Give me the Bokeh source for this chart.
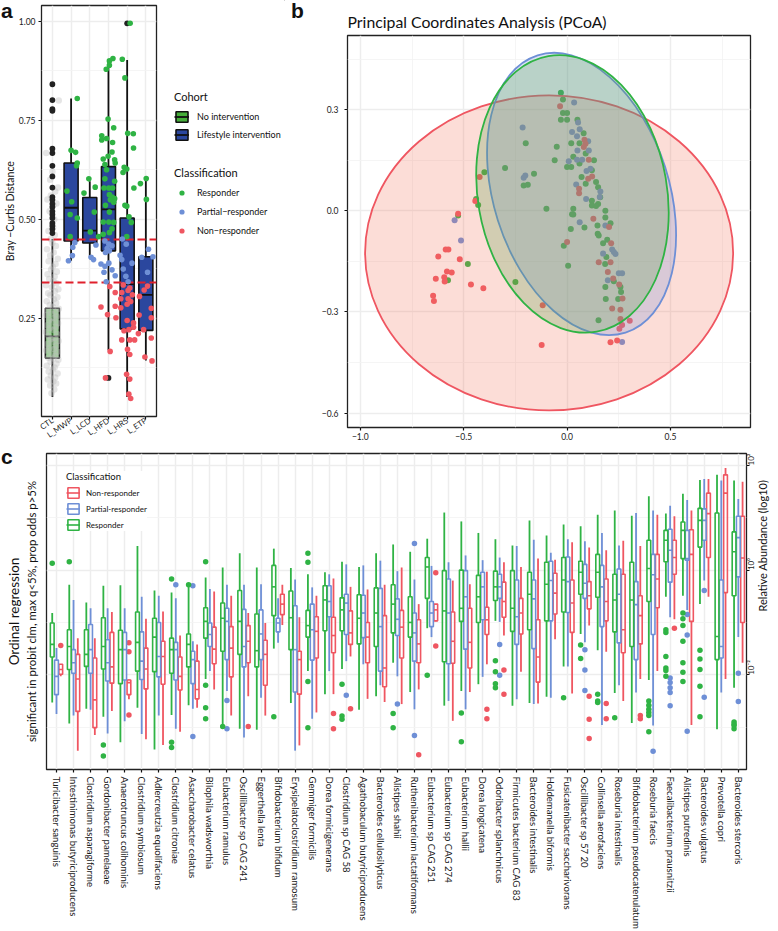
from bokeh.plotting import figure
from bokeh.layouts import column, row
from bokeh.models import (ColumnDataSource, FixedTicker, Legend, LegendItem, Range1d, LinearAxis, Div)
from bokeh.embed import file_html
from bokeh.resources import INLINE

FONT = "Lato"
GREEN = "#2FB344"
BLUE = "#6E8FD6"
RED = "#EF5661"
GRID = "#EDEDED"
GRID2 = "#F2F2F2"

# ---------- panel a ----------
cohorts = ["CTL", "L_MWP", "L_LCD", "L_HFD", "L_HRS", "L_ETP"]
coh_hi = [0.450, 0.805, 0.596, 0.902, 0.902, 0.604]
coh_q3 = [0.275, 0.642, 0.555, 0.633, 0.503, 0.405]
coh_med = [0.204, 0.529, 0.471, 0.525, 0.336, 0.309]
coh_q1 = [0.149, 0.445, 0.440, 0.420, 0.223, 0.219]
coh_lo = [0.051, 0.395, 0.404, 0.169, 0.051, 0.143]
cutoffs = [0.45, 0.339]

ctl_out = [0.841, 0.801, 0.778, 0.774, 0.678, 0.667, 0.635, 0.608, 0.58, 0.556, 0.549, 0.539, 0.531, 0.52, 0.512, 0.503, 0.49, 0.483, 0.475, 0.465]
other_out_x = [4, 5]
other_out_y = [0.099, 0.995]

a_gx = [2.33, 2.0, 2.24, 2.33, 2.29, 1.78, 2.03, 1.95, 2.33, 2.69, 2.95, 3.29, 3.24, 4.24, 4.05, 4.05, 3.88, 3.98, 4.28, 3.64, 3.64, 3.9, 4.22, 4.19, 3.98, 3.72, 4.33, 4.36, 3.81, 3.9, 3.81, 4.33, 3.76, 4.02, 4.22, 4.05, 4.19, 4.33, 4.1, 4.28, 3.84, 4.05, 4.74, 4.88, 5.16, 5.03, 5.33, 5.34, 4.84, 4.98, 4.78, 5.36, 5.71, 4.88, 4.98, 5.1, 6.02, 6.03, 1.95, 3.03, 3.47, 3.72, 3.72, 4.02, 4.28, 4.19, 4.05, 4.98, 5.22]
a_gy = [0.805, 0.674, 0.669, 0.642, 0.635, 0.571, 0.544, 0.512, 0.503, 0.566, 0.602, 0.581, 0.518, 0.906, 0.9, 0.889, 0.879, 0.753, 0.731, 0.711, 0.70, 0.704, 0.694, 0.67, 0.659, 0.652, 0.65, 0.642, 0.638, 0.625, 0.602, 0.596, 0.579, 0.579, 0.579, 0.562, 0.556, 0.552, 0.549, 0.543, 0.535, 0.518, 0.904, 0.857, 0.995, 0.717, 0.716, 0.68, 0.631, 0.627, 0.618, 0.579, 0.59, 0.535, 0.533, 0.506, 0.603, 0.55, 0.456, 0.468, 0.456, 0.462, 0.493, 0.493, 0.492, 0.476, 0.466, 0.456, 0.492]
a_bx = [1.86, 2.07, 2.09, 2.2, 3.07, 3.2, 3.33, 3.6, 3.76, 3.81, 4.02, 4.19, 4.36, 3.88, 3.81, 4.02, 4.19, 3.93, 3.84, 4.05, 4.74, 4.95, 4.62, 4.71, 5.26, 4.79, 4.93, 5.05, 6.14, 5.78, 6.38, 6.09]
a_by = [0.395, 0.408, 0.429, 0.441, 0.404, 0.398, 0.435, 0.387, 0.366, 0.381, 0.389, 0.372, 0.357, 0.342, 0.445, 0.437, 0.433, 0.426, 0.416, 0.42, 0.45, 0.437, 0.409, 0.398, 0.389, 0.374, 0.356, 0.342, 0.424, 0.404, 0.405, 0.366]
a_rx = [4.07, 4.36, 3.6, 3.95, 4.36, 4.4, 4.09, 3.84, 4.79, 5.14, 4.71, 5.05, 5.28, 4.66, 5.05, 5.19, 5.0, 4.66, 5.0, 5.34, 5.34, 5.09, 4.83, 4.71, 5.14, 5.4, 5.02, 5.14, 4.97, 5.14, 5.09, 5.19, 6.09, 5.91, 5.66, 6.29, 5.64, 6.29, 5.88, 5.6, 6.29, 5.95, 6.33]
a_ry = [0.33, 0.315, 0.278, 0.259, 0.28, 0.251, 0.166, 0.099, 0.334, 0.326, 0.315, 0.32, 0.309, 0.299, 0.299, 0.292, 0.285, 0.276, 0.244, 0.238, 0.227, 0.221, 0.218, 0.195, 0.195, 0.195, 0.171, 0.158, 0.108, 0.096, 0.058, 0.047, 0.331, 0.321, 0.305, 0.275, 0.258, 0.251, 0.221, 0.211, 0.2, 0.152, 0.142]

ctl_jit = [-.05, .1, -.12, .2, .05, -.25, .15, -.08, .28, -.2, .02, .12, -.3, .22, -.1, .32, .05, -.22, .16, -.04, .27, -.33, .09, -.15, .2, -.27, .01, .33, -.09, .13, -.2, .25, -.35, .06, -.13, .18, -.28, .3, 0, -.18, .1, .23, -.32, -.06, .15, -.24, .34, .03, -.14, .2, -.3, .08, .27, -.11, -.23, .14, .32, -.03, -.34, .21, .06, -.17, .12, -.26, .24, -.07, .02, .17, -.2, .29, -.12, .07, -.29, .19, 0, -.09, .13, -.21, .04, .1, -.15, .22, -.08, .05, .3, -.27, .15, -.12, .34, -.33, 0]
ctl_val = [.06, .07, .08, .085, .09, .095, .10, .105, .11, .115, .12, .125, .13, .135, .14, .145, .148, .15, .155, .16, .165, .168, .172, .175, .18, .185, .19, .192, .197, .2, .205, .21, .215, .22, .225, .228, .232, .237, .24, .245, .25, .254, .258, .262, .266, .27, .274, .278, .283, .288, .293, .298, .303, .308, .313, .318, .323, .328, .333, .338, .343, .349, .355, .361, .367, .373, .38, .387, .394, .40, .408, .416, .424, .432, .44, .45, .46, .47, .48, .5, .52, .54, .56, .535, .58, .55, .57, .6, .80, .667, .62]

# ---------- panel b ----------
pc_gx = [-.03, -.02, -.02, 0, -.03, 0, .05, .08, .06, .02, -.05, -.20, .09, .03, -.06, .06, .13, 0, .02, .12, .07, .09, .14, .15, .16, .12, .15, .12, .14, .03, .024, .03, .185, .185, .21, .147, .018, .084, .148, -.30, -.16, -.21, -.19, -.10, -.40, -.44, -.43, -.527, -.016, .005, .153, .194, .174, .19, .184, .185, .187, .247, .258, .261, .226, .152, -.25, -.48, -.576]
pc_gy = [.35, .33, .29, .29, .27, .27, .27, .23, .20, .20, .19, .20, .17, .16, .15, .14, .15, .13, .13, .12, .10, .08, .085, .07, .04, .03, .02, .016, .014, .006, -.01, -.011, 0, -.02, -.037, -.044, -.054, -.05, -.068, .127, .11, .075, .077, .006, .114, .035, .017, -.014, -.104, -.163, -.073, -.086, -.096, -.137, -.158, -.226, -.262, -.262, -.226, -.241, -.209, -.325, -.211, -.158, -.206]
pc_bx = [.034, .053, .061, -.215, .024, .048, .102, .105, .05, .008, .048, .073, .113, .094, -.202, -.21, .044, .161, .092, .158, .061, .185, -.544, -.513, .174, .218, .226, .234, .25, .266, .197, .266]
pc_by = [.321, .262, .242, .247, .234, .221, .206, .179, .179, .147, .151, .151, .125, .118, .105, .098, .078, .057, .035, .041, -.034, -.044, -.028, -.088, -.127, -.115, -.122, -.128, -.185, -.185, -.206, -.389]
pc_rx = [-.034, .084, .089, .081, .105, .121, .102, .058, .058, .127, .203, -.423, -.444, -.527, 0, .213, .21, .153, .197, .223, .252, .268, .218, .258, .258, .303, .266, .253, -.118, -.123, .21, .242, -.587, -.574, -.623, -.519, -.581, -.558, -.635, -.594, -.592, -.465, -.405, -.648, -.644]
pc_ry = [.31, .211, .199, .189, .151, .102, .095, .065, .052, -.024, -.048, .10, .029, -.009, -.093, -.096, -.153, -.153, -.182, -.201, -.219, -.26, -.29, -.294, -.321, -.326, -.339, -.35, -.28, -.398, -.39, -.385, -.115, -.115, -.136, -.144, -.18, -.183, -.202, -.197, -.21, -.219, -.23, -.252, -.268]

ell_x = [-.087, .07, .026]
ell_y = [-.125, .05, .05]
ell_w = [1.78, .849, .915]
ell_h = [.935, .863, .83]
ell_tilt = [0, 0.307, 0.174]
ell_col = [RED, BLUE, GREEN]
ell_fill = ["#F2795F", BLUE, "#55A044"]

# ---------- panel c (log10 relative abundance) ----------
species = ["Turicibacter sanguinis", "Intestinimonas butyriciproducens", "Clostridium asparagiforme", "Gordonibacter pamelaeae", "Anaerotruncus colihominis", "Clostridium symbiosum", "Adlercreutzia equolifaciens", "Clostridium citroniae", "Asaccharobacter celatus", "Bilophila wadsworthia", "Eubacterium ramulus", "Oscillibacter sp CAG 241", "Eggerthella lenta", "Bifidobacterium bifidum", "Erysipelatoclostridium ramosum", "Gemmiger formicilis", "Dorea formicigenerans", "Clostridium sp CAG 58", "Agathobaculum butyriciproducens", "Bacteroides cellulosilyticus", "Alistipes shahii", "Ruthenibacterium lactatiformans", "Eubacterium sp CAG 251", "Eubacterium sp CAG 274", "Eubacterium hallii", "Dorea longicatena", "Odoribacter splanchnicus", "Firmicutes bacterium CAG 83", "Bacteroides intestinalis", "Holdemanella biformis", "Fusicatenibacter saccharivorans", "Oscillibacter sp 57 20", "Collinsella aerofaciens", "Roseburia intestinalis", "Bifidobacterium pseudocatenulatum", "Roseburia faecis", "Faecalibacterium prausnitzii", "Alistipes putredinis", "Bacteroides vulgatus", "Prevotella copri", "Bacteroides stercoris"]

resp_hi = [-.82, -.28, -.62, -.30, -.29, .46, -.39, -.43, -.28, -.14, .05, .32, .05, .41, .04, -.08, -.04, .16, .06, .32, .49, .35, .60, 1.10, .93, .71, .59, .47, .95, .66, .87, .84, 1.06, 1.14, 1.04, 1.41, 1.08, 1.46, 1.72, 1.82, 1.71]
resp_q3 = [-1.01, -1.14, -1.14, -.91, -1.15, -.80, -.92, -1.30, -1.22, -.72, -.63, -.39, -.84, .09, -.40, -.77, -.30, -.53, -.47, -.34, -.28, -.51, .24, -.01, 0, -.10, -.02, -.01, -.04, .15, .24, .17, .30, -.08, .15, .57, .76, .92, 1.18, 1.09, .73]
resp_med = [-1.42, -1.46, -1.61, -1.46, -1.52, -1.38, -1.28, -1.52, -1.42, -.98, -.92, -.98, -1.54, -.32, -.91, -1.06, -.57, -.76, -.92, -.82, -.65, -1.00, .06, -.78, -.73, -.51, -.32, -.73, -.46, -.27, -.19, -.04, -.04, -.57, -.57, .03, .57, .76, .95, -1.27, .35]
resp_q1 = [-1.66, -1.90, -1.84, -1.89, -2.17, -1.93, -1.94, -1.97, -1.85, -1.30, -1.55, -1.61, -1.85, -.87, -1.52, -1.28, -1.16, -1.16, -1.41, -1.46, -1.20, -1.28, -.54, -1.75, -.98, -1.00, -.58, -1.17, -1.14, -.97, -.80, -.46, -.52, -1.18, -1.46, -.60, .16, .22, .44, -1.71, -.49]
resp_lo = [-2.53, -2.93, -2.65, -2.80, -3.29, -2.63, -3.43, -2.77, -2.58, -2.08, -2.97, -3.03, -3.05, -1.50, -2.54, -1.93, -2.37, -1.89, -2.67, -2.41, -1.77, -2.33, -1.11, -2.59, -2.31, -2.18, -.97, -2.59, -2.54, -2.42, -1.84, -1.22, -1.53, -2.35, -2.92, -2.10, -.51, -.49, -.65, -3.04, -2.25]
resp_out_c = [1, 2, 4, 4, 8, 8, 8, 9, 10, 10, 10, 10, 11, 14, 16, 16, 16, 16, 18, 18, 18, 21, 21, 23, 25, 25, 27, 27, 27, 27, 31, 32, 32, 33, 33, 33, 34, 36, 36, 36, 36, 36, 36, 37, 37, 37, 37, 37, 37, 38, 38, 38, 38, 38, 38, 38, 39, 39, 39, 39, 39, 41, 41, 41, 41]
resp_out_v = [.13, .16, -3.34, -3.55, -.17, -3.29, -3.39, -.28, .16, -2.20, -2.63, -2.84, -2.99, -2.80, .32, .15, -2.13, -3.01, -2.18, -2.79, -2.85, -2.74, -3.01, -2.01, -2.73, -3.28, -1.73, -1.94, -2.17, -2.25, -2.44, -1.43, -1.69, -2.37, -2.50, -2.53, -2.82, -2.50, -2.58, -2.66, -2.72, -2.78, -3.09, -1.14, -1.19, -1.65, -1.87, -1.92, -2.03, -.82, -.93, -1.06, -1.36, -1.77, -1.95, -2.13, -1.53, -1.70, -1.90, -2.22, -2.80, -2.90, -2.94, -2.97, -3.03]

part_hi = [-1.49, -.57, -.73, -.73, -.73, -.51, -.49, -.54, -1.36, -.36, -.28, -.28, -.27, -.54, -.18, -.33, -.08, .11, .09, .18, -.02, -.18, .08, .15, .28, .19, .24, .46, .58, .33, .59, .55, .71, .47, 1.09, 1.14, 1.23, 1.34, 1.74, 1.71, 1.36]
part_q3 = [-1.72, -1.52, -1.04, -1.33, -1.19, -1.18, -1.00, -1.38, -1.55, -1.01, -.73, -.75, -.76, -.92, -.68, -.65, -.30, -.46, -.48, -.35, -.55, -.82, -.60, -.17, -.01, -.04, -.08, -.19, -.19, .17, .25, .11, .09, .02, -.22, .30, .78, .76, 1.17, -.19, 1.03]
part_med = [-2.03, -1.77, -1.52, -1.77, -1.52, -1.74, -1.65, -1.52, -1.71, -1.23, -.98, -1.46, -1.22, -1.01, -1.52, -1.14, -.60, -.63, -.82, -1.08, -.94, -1.20, -.82, -.82, -.51, -.32, -.32, -.89, -.55, -.20, -.22, -.25, -.32, -.46, -.66, -.09, .38, .22, .95, -1.46, .62]
part_q1 = [-2.38, -1.97, -1.97, -2.12, -2.10, -2.09, -2.04, -2.10, -2.17, -1.46, -1.71, -1.85, -1.71, -1.18, -2.33, -1.72, -.89, -1.23, -1.29, -1.93, -1.25, -1.74, -1.08, -1.79, -1.51, -.95, -.54, -1.42, -1.50, -.97, -.81, -.54, -1.08, -1.39, -1.71, -1.23, -.23, .19, .57, -1.68, -.13]
part_lo = [-2.75, -2.78, -2.67, -3.12, -2.89, -3.13, -2.78, -3.03, -2.65, -1.93, -2.31, -3.20, -2.44, -1.39, -3.45, -2.84, -1.93, -1.74, -1.80, -2.20, -2.03, -2.66, -1.28, -2.50, -2.66, -2.04, -.99, -2.47, -2.56, -2.44, -1.84, -1.38, -2.96, -2.20, -2.34, -2.97, -.90, -.76, -.20, -2.34, -1.28]
part_out_c = [8, 9, 9, 11, 11, 18, 21, 22, 22, 27, 27, 32, 32, 32, 36, 37, 37, 37, 37, 37, 38, 38, 38, 39, 39, 41, 41]
part_out_v = [-.28, -.30, -3.18, -2.49, -3.03, -2.39, -2.56, .51, -3.16, -1.42, -2.01, -1.52, -1.91, -2.30, -3.46, -2.06, -2.15, -2.25, -2.34, -2.59, -.85, -1.24, -3.08, -.39, -2.43, -1.97, -2.51]

non_hi = [-1.80, -1.30, -1.30, -.80, -2.09, -.93, -.79, -1.25, -1.42, -.41, -.49, -.82, -1.01, -.28, -.90, -.49, -.16, -.32, -.37, -.28, .05, -.65, -.65, -.20, -.27, -.03, .15, .06, .22, .20, .53, .43, .38, .56, .46, 1.06, 1.03, 1.14, 1.74, 1.95, 1.69]
non_q3 = [-1.80, -1.61, -1.68, -1.19, -2.10, -1.49, -1.36, -1.66, -1.74, -1.09, -1.08, -1.06, -1.34, -.46, -1.55, -.89, -.90, -.78, -1.00, -.87, -.77, -.95, -.65, -.80, -.73, -.71, -.23, -.54, -.95, -.06, -.19, -.22, -.17, -.08, -.49, .30, .57, .77, 1.47, 1.82, 1.03]
non_med = [-1.90, -2.08, -2.48, -1.85, -2.15, -1.89, -1.65, -2.03, -2.28, -1.51, -1.49, -1.36, -1.61, -.65, -1.71, -1.17, -1.25, -1.20, -1.28, -1.87, -1.09, -1.41, -.76, -1.36, -1.38, -.95, -.60, -.82, -1.66, -.44, -.63, -.49, -.60, -1.14, -.87, -.17, .24, .30, 1.08, 1.47, .23]
non_q1 = [-1.99, -2.70, -3.01, -2.16, -2.38, -2.27, -2.18, -2.29, -2.46, -1.79, -2.04, -1.77, -2.20, -.85, -2.37, -1.68, -1.58, -1.42, -1.77, -2.23, -1.68, -1.77, -.97, -1.78, -1.87, -1.23, -.90, -1.22, -2.14, -.84, -1.19, -.74, -.97, -1.58, -1.41, -.72, -.08, -.98, .24, -.43, -1.00]
non_lo = [-2.03, -3.45, -3.15, -2.69, -2.47, -3.23, -3.34, -3.09, -2.63, -2.28, -2.78, -2.41, -2.78, -1.05, -3.35, -2.72, -2.37, -1.65, -2.46, -2.52, -2.56, -2.28, -.98, -2.88, -2.33, -1.80, -1.25, -1.94, -2.55, -1.32, -2.36, -1.06, -1.56, -2.50, -2.08, -1.93, -.94, -2.96, -.51, -2.08, -1.77]
non_out_c = [1, 5, 5, 5, 12, 17, 17, 18, 22, 23, 23, 26, 26, 27, 27, 32, 32, 32, 33, 33, 35, 35, 37]
non_out_v = [-1.44, -1.39, -1.56, -2.77, -2.99, -2.74, -3.03, -2.65, -3.53, -.05, -1.45, -2.66, -2.84, -1.91, -2.37, -2.41, -2.85, -3.22, -2.55, -2.84, -2.78, -2.84, -1.11]


def style_axis(ax, size="8.5px"):
    ax.major_label_text_font = FONT
    ax.major_label_text_font_size = size
    ax.major_label_text_color = "#1a1a1a"
    ax.axis_label_text_font = FONT
    ax.axis_label_text_font_style = "normal"
    ax.axis_label_text_color = "#111111"
    ax.minor_tick_line_color = None
    ax.major_tick_line_color = "#111111"
    ax.major_tick_line_width = 1.2
    ax.major_tick_in = 0
    ax.major_tick_out = 3
    ax.axis_line_color = None


def style_fig(p):
    p.outline_line_color = "#222222"
    p.outline_line_width = 1.3
    p.background_fill_color = "white"
    p.border_fill_color = "white"
    p.xgrid.grid_line_color = GRID
    p.xgrid.grid_line_width = 1.5
    p.ygrid.grid_line_color = GRID
    p.ygrid.grid_line_width = 1.5
    p.ygrid.minor_grid_line_color = GRID2
    p.ygrid.minor_grid_line_width = 0.8
    p.frame_align = False


def letter(s, left, top):
    return Div(text=s, margin=(0, 0, 0, 0), width=16, height=24,
               styles={"position": "absolute", "left": f"{left}px", "top": f"{top}px",
                       "font-family": "Liberation Sans", "font-weight": "bold", "font-size": "21px",
                       "line-height": "21px", "color": "#111111", "z-index": "5", "overflow": "visible"})


def legend_style(l):
    l.background_fill_alpha = 0
    l.border_line_color = None
    l.margin = 0
    l.padding = 0
    l.title_text_font = FONT
    l.title_text_font_style = "normal"
    l.label_text_font = FONT
    l.title_text_color = "#111111"
    l.label_text_color = "#111111"


# ---------- figure a ----------
A_W, A_H = 160, 446
pa = figure(width=A_W, height=A_H, x_range=Range1d(0.417, 6.57), y_range=Range1d(0.0015, 1.04),
            output_backend="svg", toolbar_location=None, title=None,
            min_border_left=37, min_border_right=A_W - 156, min_border_top=5, min_border_bottom=A_H - 418)
style_fig(pa)
for ax in pa.xaxis + pa.yaxis:
    style_axis(ax)
pa.xaxis[0].ticker = FixedTicker(ticks=list(range(1, 7)))
pa.xaxis[0].major_label_overrides = {i + 1: c for i, c in enumerate(cohorts)}
pa.xaxis[0].major_label_orientation = 0.6
pa.xaxis[0].major_label_standoff = 0
pa.xaxis[0].major_label_text_font_size = "8px"
pa.yaxis[0].ticker = FixedTicker(ticks=[0.25, 0.5, 0.75, 1.0], minor_ticks=[0.125, 0.375, 0.625, 0.875])
pa.yaxis[0].major_label_overrides = {0.25: "0.25", 0.5: "0.50", 0.75: "0.75", 1.0: "1.00"}
pa.yaxis[0].axis_label = "Bray \u2212Curtis Distance"
pa.yaxis[0].axis_label_text_font_size = "10.5px"
pa.yaxis[0].axis_label_standoff = 0
pa.yaxis[0].major_label_standoff = 2

bw = 0.75
xs = list(range(1, 7))
src_l = ColumnDataSource(dict(x=xs[1:], hi=coh_hi[1:], q3=coh_q3[1:], med=coh_med[1:], q1=coh_q1[1:], lo=coh_lo[1:],
                              x0=[v - bw / 2 for v in xs[1:]], x1=[v + bw / 2 for v in xs[1:]]))
src_c = ColumnDataSource(dict(x=xs[:1], hi=coh_hi[:1], q3=coh_q3[:1], med=coh_med[:1], q1=coh_q1[:1], lo=coh_lo[:1],
                              x0=[v - bw / 2 for v in xs[:1]], x1=[v + bw / 2 for v in xs[:1]]))
pa.segment("x", "lo", "x", "hi", source=src_c, line_color="#222222", line_width=1.8)
pa.vbar("x", bw, "q3", "q1", source=src_c, fill_color="#46AE3A", fill_alpha=0.55, line_color="#222222", line_width=1.6)
pa.segment("x0", "med", "x1", "med", source=src_c, line_color="#222222", line_width=1.8)
pa.scatter([1 + j for j in ctl_jit], ctl_val, size=6.5, fill_color="#BFBFBF", fill_alpha=0.4, line_color=None)
pa.scatter([1] * len(ctl_out), ctl_out, size=5.8, fill_color="#222222", line_color=None)
pa.scatter(other_out_x, other_out_y, size=5.8, fill_color="#222222", line_color=None)
pa.segment("x", "lo", "x", "hi", source=src_l, line_color="#111111", line_width=1.8)
pa.vbar("x", bw, "q3", "q1", source=src_l, fill_color="#2B479E", line_color="#111111", line_width=1.6)
pa.segment("x0", "med", "x1", "med", source=src_l, line_color="#111111", line_width=1.8)
pa.hspan(y=cutoffs, line_color="#E0202C", line_width=1.8, line_dash="8 4")
pa.scatter(a_gx, a_gy, size=5.6, fill_color=GREEN, line_color=None)
pa.scatter(a_bx, a_by, size=5.6, fill_color=BLUE, line_color=None)
pa.scatter(a_rx, a_ry, size=5.6, fill_color=RED, line_color=None)

# ---------- legends of a, in their own strip ----------
L_W = 125
pl = figure(width=L_W, height=446, x_range=Range1d(0, 1), y_range=Range1d(0, 1),
            x_axis_type=None, y_axis_type=None, output_backend="svg", toolbar_location=None, title=None,
            min_border=0, outline_line_color=None)
pl.grid.visible = False
pl.frame_align = False
key_x = [5.0]
key_y = [5.0]
k_a = pl.vbar(key_x, 1, key_y, key_y, fill_color="#46AE3A", line_color="#111111", line_width=1.6)
k_am = pl.segment(key_x, key_y, key_x, key_y, line_color="#111111", line_width=1.8)
k_b = pl.vbar(key_x, 1, key_y, key_y, fill_color="#2B479E", line_color="#111111", line_width=1.6)
k_bm = pl.segment(key_x, key_y, key_x, key_y, line_color="#111111", line_width=1.8)
k_g = pl.scatter(key_x, key_y, size=5.6, fill_color=GREEN, line_color=None)
k_p = pl.scatter(key_x, key_y, size=5.6, fill_color=BLUE, line_color=None)
k_r = pl.scatter(key_x, key_y, size=5.6, fill_color=RED, line_color=None)
l1 = Legend(items=[LegendItem(label="No intervention", renderers=[k_a, k_am]),
                   LegendItem(label="Lifestyle intervention", renderers=[k_b, k_bm])],
            location=(14, 305))
legend_style(l1)
l1.title = "Cohort"
l1.title_text_font_size = "11px"
l1.label_text_font_size = "9px"
l1.glyph_width = 15
l1.glyph_height = 13
l1.label_height = 13
l1.spacing = 5
l1.label_standoff = 8
l1.title_standoff = 7
pl.add_layout(l1, "center")
l2 = Legend(items=[LegendItem(label="Responder", renderers=[k_g]),
                   LegendItem(label="Partial\u2212responder", renderers=[k_p]),
                   LegendItem(label="Non\u2212responder", renderers=[k_r])],
            location=(14, 209))
legend_style(l2)
l2.title = "Classification"
l2.title_text_font_size = "11px"
l2.label_text_font_size = "9px"
l2.glyph_width = 15
l2.glyph_height = 13
l2.label_height = 13
l2.spacing = 6
l2.label_standoff = 8
l2.title_standoff = 7
pl.add_layout(l2, "center")

# ---------- figure b ----------
B_W, B_H = 493, 446
pb = figure(width=B_W, height=B_H, x_range=Range1d(-1.062, 0.887), y_range=Range1d(-0.643, 0.52),
            output_backend="svg", toolbar_location=None,
            min_border_left=62, min_border_right=28, min_border_top=35, min_border_bottom=19)
style_fig(pb)
for ax in pb.xaxis + pb.yaxis:
    style_axis(ax)
pb.title.text = "Principal Coordinates Analysis (PCoA)"
pb.title.text_font = FONT
pb.title.text_font_size = "15.8px"
pb.title.text_font_style = "normal"
pb.title.text_color = "#111111"
pb.title.offset = 0
pb.title.standoff = 9
pb.xaxis[0].ticker = FixedTicker(ticks=[-1.0, -0.5, 0.0, 0.5], minor_ticks=[-0.75, -0.25, 0.25, 0.75])
pb.xaxis[0].major_label_overrides = {-1.0: "\u22121.0", -0.5: "\u22120.5", 0.0: "0.0", 0.5: "0.5"}
pb.xaxis[0].major_label_standoff = 1
pb.yaxis[0].ticker = FixedTicker(ticks=[-0.6, -0.3, 0.0, 0.3], minor_ticks=[-0.45, -0.15, 0.15, 0.45])
pb.yaxis[0].major_label_overrides = {-0.6: "\u22120.6", -0.3: "\u22120.3", 0.0: "0.0", 0.3: "0.3"}
pb.xgrid.minor_grid_line_color = GRID2
pb.xgrid.minor_grid_line_width = 0.8
pb.scatter(pc_gx, pc_gy, size=6, fill_color=GREEN, line_color=None)
pb.scatter(pc_bx, pc_by, size=6, fill_color=BLUE, line_color=None)
pb.scatter(pc_rx, pc_ry, size=6, fill_color=RED, line_color=None)
for i in range(3):
    pb.ellipse(x=[ell_x[i]], y=[ell_y[i]], width=[ell_w[i]], height=[ell_h[i]], angle=[ell_tilt[i]],
               fill_color=ell_fill[i], fill_alpha=0.25, line_color=ell_col[i], line_width=1.8)

# ---------- figure c ----------
C_W, C_H = 778, 485
pc = figure(width=C_W, height=C_H, x_range=Range1d(0.414, 41.48), y_range=Range1d(-3.81, 2.228),
            y_axis_location="right", output_backend="svg", toolbar_location=None, title=None,
            min_border_left=46, min_border_right=31, min_border_top=7, min_border_bottom=160)
style_fig(pc)
for ax in pc.xaxis + pc.yaxis:
    style_axis(ax)
pc.xaxis[0].ticker = FixedTicker(ticks=list(range(1, 42)))
pc.xaxis[0].major_label_overrides = {i + 1: s for i, s in enumerate(species)}
pc.xaxis[0].major_label_orientation = "vertical"
pc.xaxis[0].major_label_text_font_size = "9.6px"
pc.xaxis[0].major_label_standoff = 4
pc.yaxis[0].ticker = FixedTicker(ticks=[-2, 0, 2], minor_ticks=[-3, -1, 1])
pc.yaxis[0].major_label_overrides = {-2: "10\u207b\u00b2", 0: "10\u2070", 2: "10\u00b2"}
pc.yaxis[0].major_label_orientation = 1.5708
pc.yaxis[0].major_label_standoff = 1
pc.yaxis[0].major_label_text_font_size = "8px"
pc.yaxis[0].axis_label = "Relative Abundance (log10)"
pc.yaxis[0].axis_label_text_font_size = "11px"
pc.yaxis[0].axis_label_standoff = -2
if hasattr(pc.yaxis[0], "axis_label_orientation"):
    pc.yaxis[0].axis_label_orientation = 1.5708

for txt, fs, so in [("significant in probit clm, max q<5%, prop odds p>5%", "11.4px", 9),
                    ("Ordinal regression", "13.5px", 0)]:
    ax = LinearAxis(ticker=FixedTicker(ticks=[]), axis_label=txt)
    style_axis(ax)
    ax.major_tick_line_color = None
    ax.major_tick_out = 0
    ax.major_label_standoff = 0
    ax.major_label_text_font_size = "0px"
    ax.axis_label_text_font_size = fs
    ax.axis_label_standoff = so
    pc.add_layout(ax, "left")

dodge = 0.25
box_w = 0.22
series = [
    ("Non-responder", RED, 1, non_hi, non_q3, non_med, non_q1, non_lo, non_out_c, non_out_v),
    ("Partial-responder", BLUE, 0, part_hi, part_q3, part_med, part_q1, part_lo, part_out_c, part_out_v),
    ("Responder", GREEN, -1, resp_hi, resp_q3, resp_med, resp_q1, resp_lo, resp_out_c, resp_out_v),
]
legend_items = []
for name, col, d, hi, q3, med, q1, lo, oc, ov in series:
    cx = [i + 1 + d * dodge for i in range(len(species))]
    s = ColumnDataSource(dict(x=cx, hi=hi, q3=q3, med=med, q1=q1, lo=lo,
                              x0=[v - box_w / 2 for v in cx], x1=[v + box_w / 2 for v in cx]))
    pc.segment("x", "q3", "x", "hi", source=s, line_color=col, line_width=1.8)
    pc.segment("x", "q1", "x", "lo", source=s, line_color=col, line_width=1.8)
    bx = pc.vbar("x", box_w, "q3", "q1", source=s, fill_color="white", fill_alpha=0.55, line_color=col, line_width=1.6)
    md = pc.segment("x0", "med", "x1", "med", source=s, line_color=col, line_width=1.6)
    pc.scatter([c + d * dodge for c in oc], ov, size=5.5, fill_color=col, line_color=None)
    legend_items.append(LegendItem(label=name, renderers=[bx, md]))

l3 = Legend(items=legend_items, location=(20, 238))
legend_style(l3)
l3.background_fill_color = "white"
l3.background_fill_alpha = 1
l3.padding = 8
l3.title = "Classification"
l3.title_text_font_size = "9.5px"
l3.label_text_font_size = "8px"
l3.glyph_width = 14
l3.glyph_height = 13
l3.label_height = 13
l3.spacing = 3
l3.label_standoff = 6
l3.title_standoff = 4
pc.add_layout(l3, "center")

root = column(row(pa, pl, pb), pc, letter("a", 1, 0), letter("b", 291, 0), letter("c", 1, 446),
              styles={"position": "relative"})
open("out.html", "w").write(file_html(root, INLINE))
